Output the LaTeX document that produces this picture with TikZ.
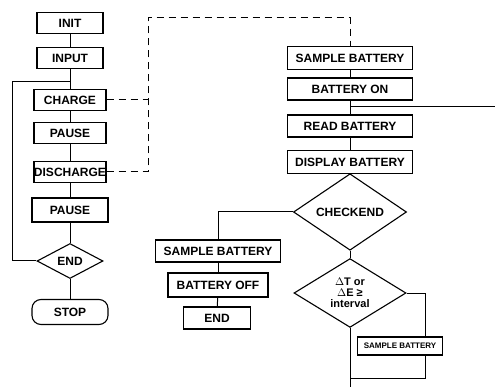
\documentclass[tikz,border=0pt]{standalone}
\usepackage{fontspec}
\setmainfont{Liberation Sans}
\usetikzlibrary{shapes.geometric}

\begin{document}
\begin{tikzpicture}[x=1pt, y=-1pt,
    pbox/.style={draw, line width=1.1pt, inner sep=1pt, minimum height=21pt,
      font=\fontsize{12}{13}\selectfont\bfseries},
    dbox/.style={diamond, draw, line width=1.1pt, inner sep=0pt,
      font=\fontsize{12}{13}\selectfont\bfseries},
    link/.style={line width=1pt},
    dlink/.style={line width=1pt, dash pattern=on 7pt off 5pt}]
  \useasboundingbox (0,0) rectangle (495,387);

  % main program
  \node[pbox, minimum width=66pt] (init) at (70,23) {INIT};
  \node[pbox, minimum width=66pt] (input) at (70,58) {INPUT};
  \node[pbox, minimum width=72pt] (charge) at (70,100) {CHARGE};
  \node[pbox, minimum width=72pt] (pause) at (70,133) {PAUSE};
  \node[pbox, minimum width=72pt, inner sep=0pt] (discharge) at (70,172) {DISCHARGE};
  \node[pbox, minimum width=76pt, minimum height=24pt] (pausetwo) at (70,210) {PAUSE};
  \node[dbox, minimum width=66pt, minimum height=35pt] (endtest) at (70,261) {END};
  \node[pbox, minimum width=76pt, minimum height=25pt, rounded corners=9pt] (stop) at (70,312) {STOP};

  \draw[link] (init) -- (input);
  \draw[link] (input) -- (charge);
  \draw[link] (charge) -- (pause);
  \draw[link] (pause) -- (discharge);
  \draw[link] (discharge) -- (pausetwo);
  \draw[link] (pausetwo) -- (endtest);
  \draw[link] (endtest) -- (stop);
  \coordinate (loop) at (12,82);
  \draw[link] (endtest.west) -| (loop) -- (loop -| input.south);

  % sampling routine
  \node[pbox, minimum width=125pt, minimum height=23pt] (sampleone) at (350,58) {SAMPLE BATTERY};
  \node[pbox, minimum width=125pt, minimum height=22pt] (batteryon) at (350,89) {BATTERY ON};
  \node[pbox, minimum width=125pt, minimum height=22pt] (readbat) at (350,126) {READ BATTERY};
  \node[pbox, minimum width=125pt, minimum height=23pt] (dispbat) at (350,162) {DISPLAY BATTERY};
  \node[dbox, minimum width=113pt, minimum height=48pt] (checkend) at (350,212) {CHECKEND};
  \node[dbox, minimum width=112pt, minimum height=63pt, align=center,
    font=\fontsize{11}{11}\selectfont\bfseries] (delta) at (350,293)
    {$\Delta$T or\\$\Delta$E ≥\\interval};

  \node[pbox, minimum width=125pt, minimum height=22pt] (sampletwo) at (218,251) {SAMPLE BATTERY};
  \node[pbox, minimum width=100pt, minimum height=24pt] (batteryoff) at (218,285) {BATTERY OFF};
  \node[pbox, minimum width=67pt, minimum height=22pt] (stopsample) at (217,318) {END};
  \node[pbox, minimum width=85pt, minimum height=18pt,
    font=\fontsize{8}{9}\selectfont\bfseries] (samplethree) at (400,346) {SAMPLE BATTERY};

  \draw[link] (sampleone) -- (batteryon);
  \draw[link] (batteryon) -- (readbat);
  \draw[link] (readbat) -- (dispbat);
  \draw[link] (dispbat) -- (checkend);
  \draw[link] (checkend) -- (delta);
  \coordinate (exit) at (495,107);
  \draw[link] (batteryon.south |- exit) -- (exit);
  \draw[link] (checkend.west) -| (sampletwo.north);
  \draw[link] (sampletwo) -- (batteryoff);
  \draw[link] (batteryoff) -- (stopsample);

  \coordinate (back) at (425,378);
  \coordinate (bottom) at (350,387);
  \draw[link] (delta.east) -| (samplethree.north -| back);
  \draw[link] (samplethree.south -| back) -- (back) -- (back -| delta.south);
  \draw[link] (delta.south) -- (bottom);

  % calls to the sampling routine
  \coordinate (call) at (148,18);
  \draw[dlink] (discharge.east) -| (call) -| (sampleone.north);
  \draw[dlink] (charge.east) -- (charge.east -| call);
\end{tikzpicture}
\end{document}
